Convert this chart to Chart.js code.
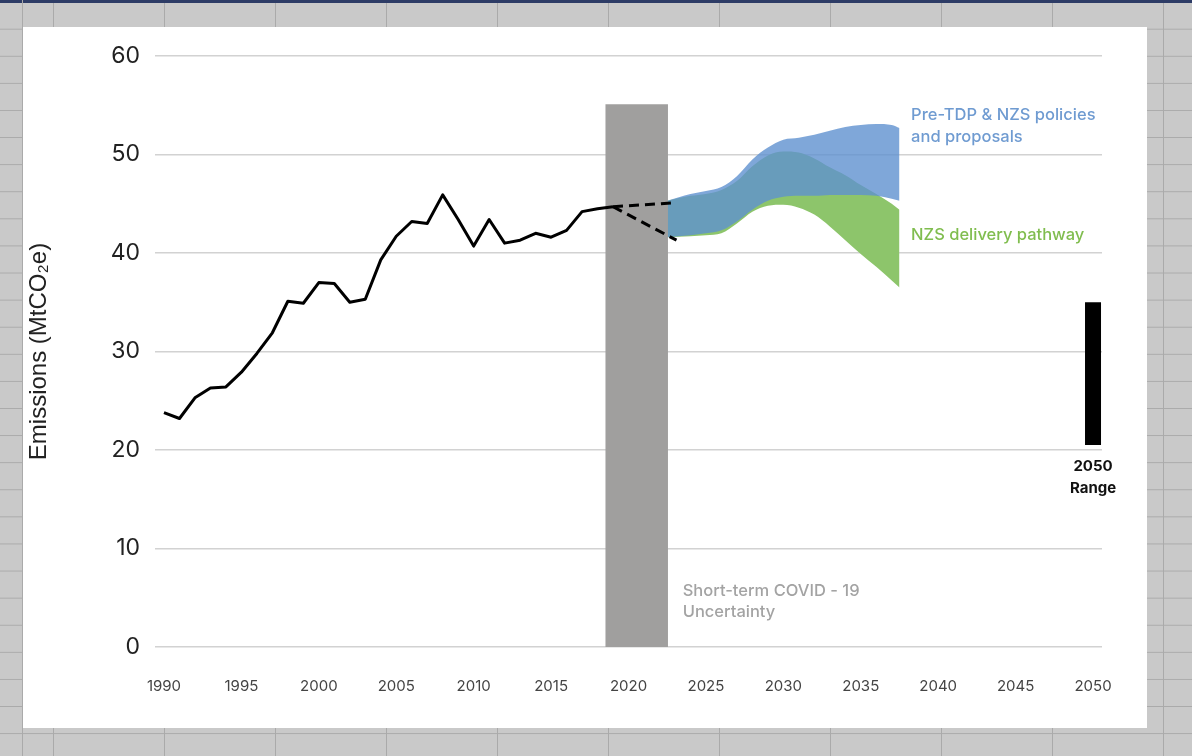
<!DOCTYPE html>
<html>
<head>
<meta charset="utf-8">
<title>Emissions pathway</title>
<script src="https://cdn.jsdelivr.net/npm/chart.js@4.4.1/dist/chart.umd.min.js"></script>
<style>
    html, body { margin: 0; padding: 0; }
    body {
        width: 1192px; height: 756px; overflow: hidden; position: relative;
        background-color: #c9c9c9;
        background-image:
            linear-gradient(to bottom, #aaaaaa 1px, transparent 1px),
            linear-gradient(to right, #aaaaaa 1px, transparent 1px);
        background-size: 100% 27.1px, 111px 100%;
        background-position: 0 1.6px, 53px 0;
    }
    #topline { position: absolute; left: 0; top: 0; width: 1192px; height: 3px; background: #2d3c66; }
    #leftline { position: absolute; left: 22px; top: 0; width: 1px; height: 756px; background: #aaaaaa; }
    #card { position: absolute; left: 23px; top: 27px; width: 1124px; height: 701px; background: #fff; }
</style>
</head>
<body>
<div id="topline"></div>
<div id="leftline"></div>
<div id="card"><canvas id="emissions" width="1124" height="701"></canvas></div>

<script>
    // Historic emissions (MtCO2e)
    var histYears = [1990, 1991, 1992, 1993, 1994, 1995, 1996, 1997, 1998, 1999,
                     2000, 2001, 2002, 2003, 2004, 2005, 2006, 2007, 2008, 2009,
                     2010, 2011, 2012, 2013, 2014, 2015, 2016, 2017, 2018, 2019];
    var histEmissions = [23.8, 23.2, 25.3, 26.3, 26.4, 27.9, 29.8, 31.9, 35.1, 34.9,
                         37.0, 36.9, 35.0, 35.3, 39.3, 41.7, 43.2, 43.0, 45.9, 43.4,
                         40.7, 43.4, 41.0, 41.3, 42.0, 41.6, 42.3, 44.2, 44.5, 44.7];

    // Dashed branch through the COVID years
    var branchYears = [2019, 2023.1];
    var branchHigh = [44.7, 45.1];
    var branchLow = [44.7, 41.3];

    // Projection bands
    var projYears = [2022.5, 2024, 2025, 2026, 2027, 2028, 2029, 2030,
                     2031, 2032, 2033, 2034, 2035, 2036, 2037, 2037.5];
    var policyHigh = [45.3, 46.0, 46.3, 46.7, 47.8, 49.5, 50.7, 51.5,
                      51.7, 52.0, 52.4, 52.8, 53.0, 53.1, 53.0, 52.7];
    var policyLow = [41.6, 41.8, 42.0, 42.3, 43.2, 44.4, 45.3, 45.7,
                     45.8, 45.8, 45.9, 45.9, 45.9, 45.8, 45.5, 45.3];
    var deliveryHigh = [45.3, 45.8, 46.0, 46.4, 47.3, 48.8, 49.9, 50.3,
                        50.2, 49.6, 48.7, 47.9, 46.9, 46.0, 45.0, 44.4];
    var deliveryLow = [41.6, 41.7, 41.8, 42.0, 43.0, 44.2, 44.8, 44.9,
                       44.6, 43.9, 42.7, 41.3, 39.9, 38.6, 37.2, 36.5];

    // COVID uncertainty block and 2050 range
    var covidYears = [2018.5, 2022.55];
    var covidTop = [55.1, 55.1];
    var rangeYears = [2050, 2050];
    var range2050 = [20.5, 35.0];

    // Axis ticks
    var yearTicks = [1990, 1995, 2000, 2005, 2010, 2015, 2020, 2025, 2030, 2035, 2040, 2045, 2050];
    var yMin = 0, yMax = 60, yStep = 10;

    function xy(xs, ys) {
        return xs.map(function (x, i) { return {x: x, y: ys[i]}; });
    }

    // text notes on the plot
    var notes = {
        id: 'notes',
        afterDatasetsDraw: function (chart) {
            var ctx = chart.ctx, xs = chart.scales.x, ys = chart.scales.y;
            ctx.save();
            ctx.textBaseline = 'middle';
            ctx.textAlign = 'left';
            ctx.font = '500 16.5px Inter';
            ctx.fillStyle = '#6f9bd1';
            ctx.fillText('Pre-TDP & NZS policies', xs.getPixelForValue(2038.25), ys.getPixelForValue(54.0));
            ctx.fillText('and proposals', xs.getPixelForValue(2038.25), ys.getPixelForValue(51.8));
            ctx.fillStyle = '#80bd4f';
            ctx.fillText('NZS delivery pathway', xs.getPixelForValue(2038.25), ys.getPixelForValue(41.8));
            ctx.fillStyle = '#a3a3a3';
            ctx.fillText('Short-term COVID - 19', xs.getPixelForValue(2023.5), ys.getPixelForValue(5.7));
            ctx.fillText('Uncertainty', xs.getPixelForValue(2023.5), ys.getPixelForValue(3.55));
            ctx.textAlign = 'center';
            ctx.fillStyle = '#111';
            ctx.font = 'bold 15px Inter';
            ctx.fillText('2050', xs.getPixelForValue(2050), ys.getPixelForValue(18.3));
            ctx.fillText('Range', xs.getPixelForValue(2050), ys.getPixelForValue(16.1));
            ctx.restore();
        }
    };

    Chart.defaults.font.family = 'Inter';

    var ctx = document.getElementById('emissions').getContext('2d');
    var chart = new Chart(ctx, {
        type: 'line',
        data: {
            datasets: [
                {   // green band lower edge
                    data: xy(projYears, deliveryLow),
                    borderWidth: 0, pointRadius: 0, fill: false,
                    cubicInterpolationMode: 'monotone', order: 10
                },
                {   // green band
                    data: xy(projYears, deliveryHigh),
                    borderWidth: 0, pointRadius: 0, fill: '-1',
                    backgroundColor: '#8dc56b',
                    cubicInterpolationMode: 'monotone', order: 9
                },
                {   // blue band lower edge
                    data: xy(projYears, policyLow),
                    borderWidth: 0, pointRadius: 0, fill: false,
                    cubicInterpolationMode: 'monotone', order: 8
                },
                {   // blue band
                    data: xy(projYears, policyHigh),
                    borderWidth: 0, pointRadius: 0, fill: '-1',
                    backgroundColor: 'rgba(95, 145, 208, 0.8)',
                    cubicInterpolationMode: 'monotone', order: 7
                },
                {   // covid block
                    data: xy(covidYears, covidTop),
                    borderWidth: 0, pointRadius: 0, fill: 'origin',
                    backgroundColor: '#a09f9e', order: 6
                },
                {   // history
                    data: xy(histYears, histEmissions),
                    borderColor: '#000', borderWidth: 3, pointRadius: 0,
                    borderJoinStyle: 'round', tension: 0, order: 5
                },
                {
                    data: xy(branchYears, branchHigh),
                    borderColor: '#000', borderWidth: 3, pointRadius: 0,
                    borderDash: [10, 6], order: 4
                },
                {
                    data: xy(branchYears, branchLow),
                    borderColor: '#000', borderWidth: 3, pointRadius: 0,
                    borderDash: [10, 6], order: 3
                },
                {   // 2050 range
                    data: xy(rangeYears, range2050),
                    borderColor: '#000', borderWidth: 16, pointRadius: 0,
                    borderCapStyle: 'butt', order: 2
                }
            ]
        },
        options: {
            responsive: false,
            animation: false,
            devicePixelRatio: 1,
            layout: {padding: {left: 0, right: 45, top: 29, bottom: 0}},
            plugins: {
                legend: {display: false},
                tooltip: {enabled: false}
            },
            scales: {
                x: {
                    type: 'linear',
                    min: 1989.42,
                    max: 2050.58,
                    afterBuildTicks: function (scale) {
                        scale.ticks = yearTicks.map(function (v) { return {value: v}; });
                    },
                    afterFit: function (scale) { scale.height = 81; },
                    grid: {display: false, drawTicks: false},
                    border: {display: false},
                    ticks: {
                        padding: 30,
                        color: '#444',
                        font: {size: 15},
                        maxRotation: 0,
                        callback: function (v) { return String(v); }
                    }
                },
                y: {
                    min: yMin,
                    max: yMax,
                    afterFit: function (scale) { scale.width = 132; },
                    grid: {color: '#d2d2d2', lineWidth: 1.5, drawTicks: false},
                    border: {display: false},
                    ticks: {
                        stepSize: yStep,
                        padding: 15,
                        color: '#222',
                        font: {size: 23}
                    },
                    title: {
                        display: true,
                        text: 'Emissions (MtCO\u2082e)',
                        color: '#222',
                        padding: {top: 2, bottom: 0},
                        font: {family: '"Liberation Sans", Arial, sans-serif', size: 24}
                    }
                }
            }
        },
        plugins: [notes]
    });
</script>
</body>
</html>
